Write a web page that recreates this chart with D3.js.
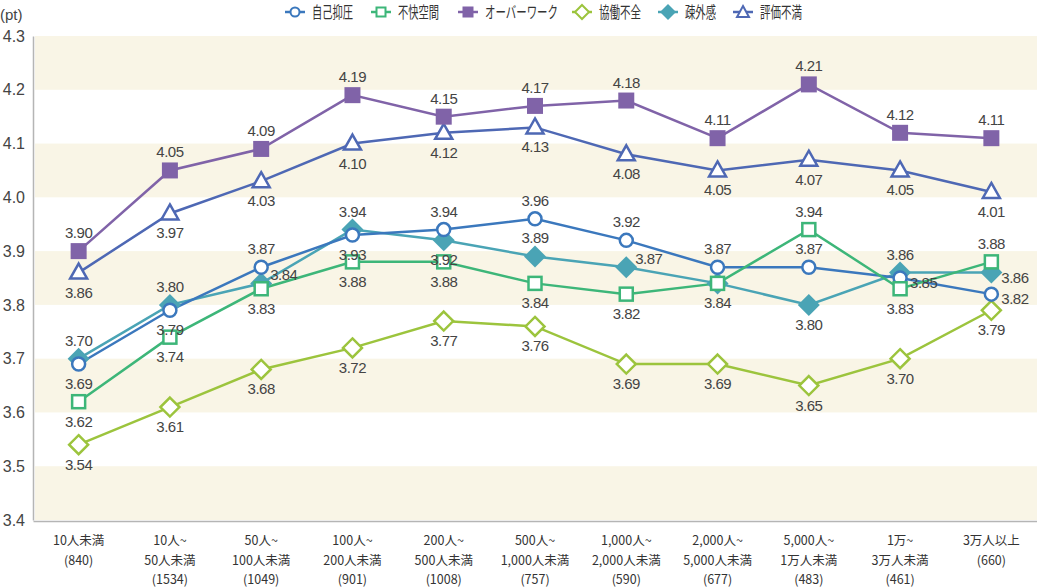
<!DOCTYPE html>
<html><head><meta charset="utf-8">
<script src="https://cdn.jsdelivr.net/npm/d3@7"></script>
<style>body{margin:0;background:#fff}svg{display:block}</style>
</head><body>
<svg id="c" width="1037" height="587"></svg>
<script>
const categories = [
  ["10人未満","(840)"],
  ["10人~","50人未満","(1534)"],
  ["50人~","100人未満","(1049)"],
  ["100人~","200人未満","(901)"],
  ["200人~","500人未満","(1008)"],
  ["500人~","1,000人未満","(757)"],
  ["1,000人~","2,000人未満","(590)"],
  ["2,000人~","5,000人未満","(677)"],
  ["5,000人~","1万人未満","(483)"],
  ["1万~","3万人未満","(461)"],
  ["3万人以上","(660)"]
];
const seriesNames = ["自己抑圧","不快空間","オーバーワーク","協働不全","疎外感","評価不満"];
const jikoyokuatsu = [3.69,3.79,3.87,3.93,3.94,3.96,3.92,3.87,3.87,3.85,3.82];
const fukaikukan   = [3.62,3.74,3.83,3.88,3.88,3.84,3.82,3.84,3.94,3.83,3.88];
const overwork     = [3.90,4.05,4.09,4.19,4.15,4.17,4.18,4.11,4.21,4.12,4.11];
const kyodofuzen   = [3.54,3.61,3.68,3.72,3.77,3.76,3.69,3.69,3.65,3.70,3.79];
const sogaikan     = [3.70,3.80,3.84,3.94,3.92,3.89,3.87,3.84,3.80,3.86,3.86];
const hyokafuman   = [3.86,3.97,4.03,4.10,4.12,4.13,4.08,4.05,4.07,4.05,4.01];
const yTicks = [3.4,3.5,3.6,3.7,3.8,3.9,4.0,4.1,4.2,4.3];
// label placement: a=above, b=below, r=right, u=upper right, n=hidden (overlaps another label)
const posJiko  = ["b","b","a","b","a","a","a","a","a","r","r"];
const posFukai = ["b","b","b","b","b","b","b","b","a","b","a"];
const posOver  = ["a","a","a","a","a","a","a","a","a","a","a"];
const posKyodo = ["b","b","b","b","b","b","b","b","b","b","b"];
const posSogai = ["a","a","u","a","b","a","u","n","b","a","r"];
const posHyoka = ["b","b","b","b","b","b","b","b","b","b","b"];

const series = [
  {name:seriesNames[4], values:sogaikan, pos:posSogai, color:"#4aa4b5", shape:"diamond", fill:true},
  {name:seriesNames[3], values:kyodofuzen, pos:posKyodo, color:"#9cc43d", shape:"diamond", fill:false},
  {name:seriesNames[5], values:hyokafuman, pos:posHyoka, color:"#4e68b4", shape:"triangle", fill:false},
  {name:seriesNames[2], values:overwork, pos:posOver, color:"#8063a8", shape:"square", fill:true},
  {name:seriesNames[0], values:jikoyokuatsu, pos:posJiko, color:"#3b78bd", shape:"circle", fill:false},
  {name:seriesNames[1], values:fukaikukan, pos:posFukai, color:"#3db679", shape:"square", fill:false}
];
const legendOrder = [4,5,3,1,0,2]; // indices into series, in legend order

const svg = d3.select("#c");
const L = 33, R = 1037, T = 36, B = 520;
const x = d3.scaleBand().domain(d3.range(categories.length)).range([L, R]);
const cx = i => x(i) + x.bandwidth()/2;
const y = d3.scaleLinear().domain([3.4, 4.3]).range([B, T]);

// bands
const bands = [[4.2,4.3],[4.0,4.1],[3.8,3.9],[3.6,3.7],[3.4,3.5]];
svg.append("g").selectAll("rect").data(bands).join("rect")
  .attr("x", L+2).attr("width", R-L-2)
  .attr("y", d => y(d[1])).attr("height", d => y(d[0]) - y(d[1]))
  .attr("fill", "#f9f5e6");

// axes
const yAxis = d3.axisLeft(y).tickValues(yTicks).tickFormat(d3.format(".1f")).tickSize(0).tickPadding(8);
const gy = svg.append("g").attr("transform", `translate(${L},0)`).call(yAxis);
gy.select(".domain").attr("stroke", "#b5b5b5").attr("stroke-width", 1.5);
gy.selectAll("text").attr("font-family", "Liberation Sans, Arial, sans-serif").attr("font-size", 16).attr("fill", "#444");
svg.append("text").attr("x", 0).attr("y", 20).text("(pt)")
  .attr("font-family", "Liberation Sans, Arial, sans-serif").attr("font-size", 15).attr("fill", "#444");

const xAxis = d3.axisBottom(x).tickSize(0).tickFormat(() => "");
const gx = svg.append("g").attr("transform", `translate(0,${B+1})`).call(xAxis);
gx.select(".domain").attr("stroke", "#b5b5b5").attr("stroke-width", 1.5);
gx.selectAll(".tick").each(function(d){
  const t = d3.select(this).append("text").attr("fill", "#333")
    .attr("font-family", "Noto Sans CJK JP, sans-serif").attr("font-size", 12.5)
    .attr("text-anchor", "middle");
  categories[d].forEach((line, k) => {
    t.append("tspan").attr("x", 0).attr("y", 24 + k*19.5).text(line);
  });
});

// lines
const line = d3.line().x((d,i) => cx(i)).y(d => y(d));

function marker(g, shape, color, fill, px, py) {
  const f = fill ? color : "#fff";
  if (shape === "circle") {
    g.append("circle").attr("cx", px).attr("cy", py).attr("r", 6.5)
      .attr("fill", f).attr("stroke", color).attr("stroke-width", 2.5);
  } else if (shape === "square") {
    const s = fill ? 16 : 13;
    g.append("rect").attr("x", px - s/2).attr("y", py - s/2).attr("width", s).attr("height", s)
      .attr("fill", f).attr("stroke", fill ? "none" : color).attr("stroke-width", 2.5);
  } else if (shape === "diamond") {
    const r = fill ? 11 : 9.5;
    g.append("path").attr("d", `M${px},${py-r}L${px+r},${py}L${px},${py+r}L${px-r},${py}Z`)
      .attr("fill", f).attr("stroke", fill ? "none" : color).attr("stroke-width", 2.5);
  } else if (shape === "triangle") {
    g.append("path").attr("d", `M${px},${py-9}L${px+8.5},${py+6}L${px-8.5},${py+6}Z`)
      .attr("fill", f).attr("stroke", color).attr("stroke-width", 2.5);
  }
}

series.forEach(s => {
  svg.append("path").datum(s.values).attr("d", line)
    .attr("fill", "none").attr("stroke", s.color).attr("stroke-width", 2.5);
});
series.forEach(s => {
  const g = svg.append("g");
  s.values.forEach((v,i) => marker(g, s.shape, s.color, s.fill, cx(i), y(v)));
});

// data labels
const lg = svg.append("g").attr("font-family", "Liberation Sans, Arial, sans-serif")
  .attr("font-size", 15).attr("fill", "#444").attr("letter-spacing", -0.5);
series.forEach(s => {
  s.values.forEach((v,i) => {
    const p = s.pos[i];
    if (p === "n") return;
    const px = cx(i), py = y(v);
    let tx = px, ty = py, anchor = "middle";
    if (p === "a") { ty = py - 13; }
    else if (p === "b") { ty = py + 25; }
    else if (p === "r") { tx = px + 10; ty = py + 10; anchor = "start"; }
    else if (p === "u") { tx = px + 9; ty = py - 3; anchor = "start"; }
    lg.append("text").attr("x", tx).attr("y", ty).attr("text-anchor", anchor).text(v.toFixed(2));
  });
});

// legend
const legendX = [285, 371, 458, 572, 658, 733];
const legendW = [41, 41, 73, 42, 31, 42];
const leg = svg.append("g");
legendOrder.forEach((si, k) => {
  const s = series[si];
  const x0 = legendX[k], ly = 12;
  leg.append("line").attr("x1", x0).attr("x2", x0 + 20).attr("y1", ly).attr("y2", ly)
    .attr("stroke", s.color).attr("stroke-width", 2.5);
  const lgm = leg.append("g");
  if (s.shape === "circle") {
    lgm.append("circle").attr("cx", x0+10).attr("cy", ly).attr("r", 4.5).attr("fill", "#fff").attr("stroke", s.color).attr("stroke-width", 2);
  } else if (s.shape === "square") {
    const sz = s.fill ? 11 : 9;
    lgm.append("rect").attr("x", x0+10-sz/2).attr("y", ly-sz/2).attr("width", sz).attr("height", sz)
      .attr("fill", s.fill ? s.color : "#fff").attr("stroke", s.fill ? "none" : s.color).attr("stroke-width", 2);
  } else if (s.shape === "diamond") {
    const r = s.fill ? 8 : 7;
    lgm.append("path").attr("d", `M${x0+10},${ly-r}L${x0+10+r},${ly}L${x0+10},${ly+r}L${x0+10-r},${ly}Z`)
      .attr("fill", s.fill ? s.color : "#fff").attr("stroke", s.fill ? "none" : s.color).attr("stroke-width", 2);
  } else {
    lgm.append("path").attr("d", `M${x0+10},${ly-6}L${x0+16},${ly+5}L${x0+4},${ly+5}Z`)
      .attr("fill", "#fff").attr("stroke", s.color).attr("stroke-width", 2);
  }
  leg.append("text").attr("x", x0 + 27).attr("y", ly + 6).text(s.name)
    .attr("font-family", "Noto Sans CJK JP, sans-serif").attr("font-size", 16).attr("fill", "#333")
    .attr("textLength", legendW[k]).attr("lengthAdjust", "spacingAndGlyphs");
});
</script>
</body></html>
